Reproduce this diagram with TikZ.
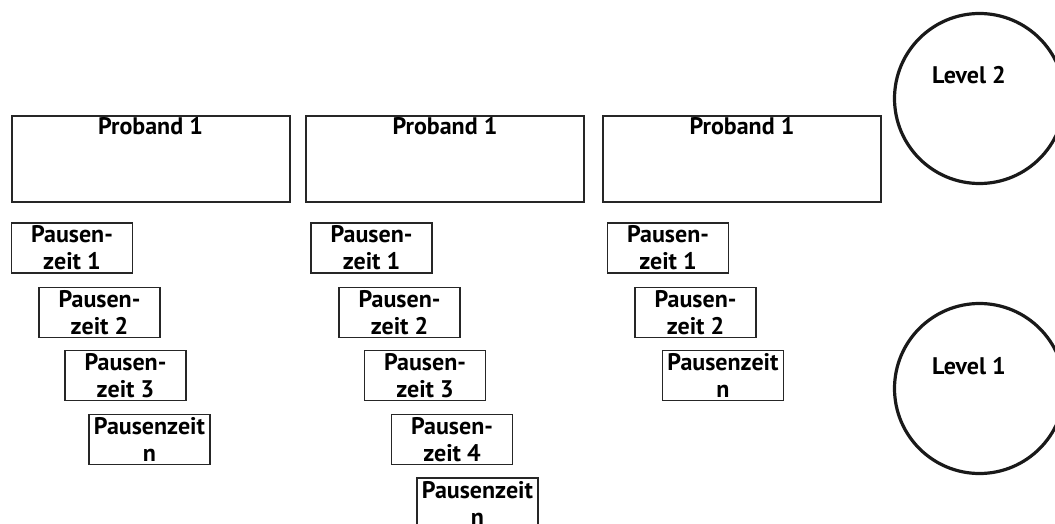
\documentclass[tikz,border=0pt]{standalone}
\usepackage{fontspec}
\setmainfont{PT Sans}
\begin{document}
\begin{tikzpicture}[x=1pt,y=-1pt,
  font=\fontsize{24}{27}\selectfont\bfseries,
  probbox/.style={draw=black!85, line width=2pt, minimum width=278pt, minimum height=86pt, inner sep=0pt},
  pausebox/.style={draw=black!85, line width=1.8pt, minimum width=121pt, minimum height=50pt, align=center, inner sep=0pt},
  levelcircle/.style={draw=black!90, line width=3.2pt, circle, minimum size=170pt, inner sep=0pt},
  title/.style={anchor=base, inner sep=0pt}]
\clip (0,0) rectangle (1055,524);
\useasboundingbox (0,0) rectangle (1055,524);

% Level-2 units: one box per subject
\node[probbox] (p1) at (150.5,159) {};
\node[probbox] (p2) at (445,159) {};
\node[probbox] (p3) at (742,159) {};
\node[title] (p1t) at (150.5,135) {Proband 1};
\node[title] (p2t) at (445,135) {Proband 1};
\node[title] (p3t) at (742,135) {Proband 1};

% Level-1 units, first subject
\node[pausebox] (a1) at (72,248) {Pausen-\\zeit 1};
\node[pausebox] (a2) at (99.5,312.5) {Pausen-\\zeit 2};
\node[pausebox] (a3) at (125.5,375.5) {Pausen-\\zeit 3};
\node[pausebox] (an) at (149.5,439.5) {Pausenzeit\\n};

% Level-1 units, second subject
\node[pausebox] (b1) at (371.5,248) {Pausen-\\zeit 1};
\node[pausebox] (b2) at (399.5,312.5) {Pausen-\\zeit 2};
\node[pausebox] (b3) at (425,375.5) {Pausen-\\zeit 3};
\node[pausebox] (b4) at (452,439.5) {Pausen-\\zeit 4};
\node[pausebox] (bn) at (477.5,503) {Pausenzeit\\n};

% Level-1 units, third subject
\node[pausebox] (c1) at (668,248) {Pausen-\\zeit 1};
\node[pausebox] (c2) at (695.5,312.5) {Pausen-\\zeit 2};
\node[pausebox] (cn) at (723,375.5) {Pausenzeit\\n};

% Level markers
\node[levelcircle] (l2) at (979.5,98.5) {};
\node[levelcircle] (l1) at (979.5,388.5) {};
\node[title] (l2t) at (969,84) {Level 2};
\node[title] (l1t) at (969,374) {Level 1};
\end{tikzpicture}
\end{document}
